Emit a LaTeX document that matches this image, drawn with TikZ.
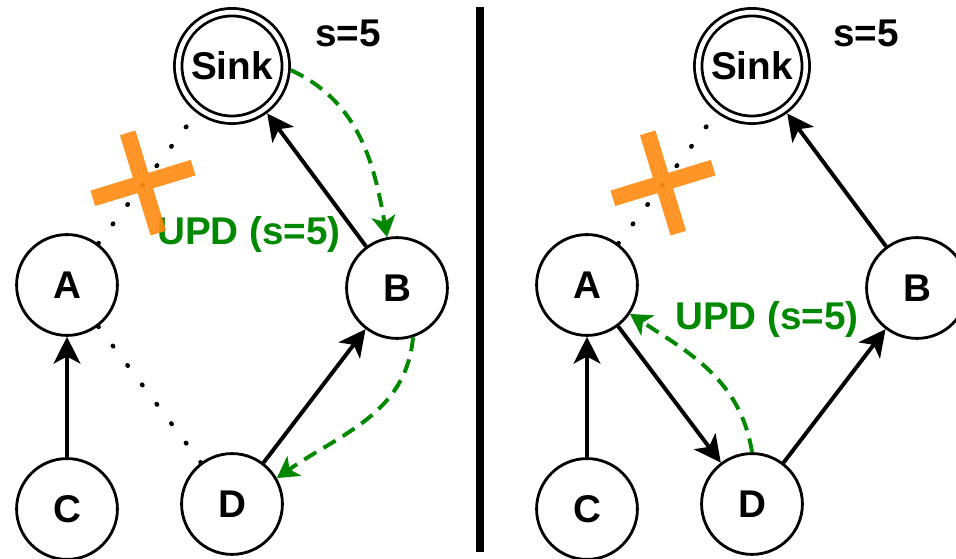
\documentclass[tikz,border=0pt]{standalone}
\usepackage{fontspec}
\setmainfont{Liberation Sans}
\usetikzlibrary{automata,positioning,arrows.meta,shapes.misc}

\definecolor{updgreen}{RGB}{0,136,0}
\definecolor{cutorange}{RGB}{255,140,20}

\tikzset{
	every state/.style={draw=black, line width=2pt, minimum size=2.52cm, inner sep=0pt,
		font=\bfseries\fontsize{27.5pt}{33pt}\selectfont},
	sinkstate/.style={double, double distance=3.3pt, minimum size=2.69cm, outer sep=3.7pt},
	txt/.style={anchor=base, inner sep=0pt, font=\bfseries\fontsize{27.5pt}{33pt}\selectfont},
	flow/.style={-{Stealth[length=19pt,width=19pt,inset=5pt]}, line width=2.8pt},
	lost/.style={line width=3.2pt, line cap=round, dash pattern=on 0.5pt off 16.78pt},
	upd/.style={-{Stealth[length=15pt,width=17pt,inset=4pt]}, updgreen, line width=2.8pt,
		dash pattern=on 10pt off 6pt},
	cut/.style={cross out, draw=cutorange, draw opacity=0.92, line width=11.5pt,
		minimum size=1.45cm, inner sep=0pt, rotate=-28}
}

\begin{document}
\begin{tikzpicture}[x=0.025cm, y=0.025cm]
		\clip (0,0) rectangle (956,559);

		% before the update
		\draw (232,493) node [state, sinkstate] (S1){Sink};
		\draw (67,274) node [state] (A1){A};
		\draw (397,271) node [state] (B1){B};
		\draw (67,50) node [state] (C1){C};
		\draw (232,55) node [state] (D1){D};
		\draw (348,512) node [txt] (s1){s=5};
		\draw (249,314) node [txt, text=updgreen] (u1){UPD (s=5)};

		\draw
		(C1) edge [flow] (A1)
		(D1) edge [flow] (B1)
		(B1) edge [flow] (S1)
		(A1) edge [lost] (S1)
			 edge [lost] (D1)
		(S1.-4) edge [upd, out=-25, in=100] (B1.101)
		(B1.-72) edge [upd, out=-95, in=35] (D1.30);

		\draw (143,376) node [cut] (X1){};

		% separator
		\draw [line width=5pt] (480,7) -- (480,552);

		% after the update
		\draw (752,493) node [state, sinkstate] (S2){Sink};
		\draw (587,274) node [state] (A2){A};
		\draw (917,271) node [state] (B2){B};
		\draw (587,50) node [state] (C2){C};
		\draw (752,55) node [state] (D2){D};
		\draw (866,512) node [txt] (s2){s=5};
		\draw (767,229) node [txt, text=updgreen] (u2){UPD (s=5)};

		\draw
		(C2) edge [flow] (A2)
		(A2) edge [flow] (D2)
		(D2) edge [flow] (B2)
		(B2) edge [flow] (S2)
		(A2) edge [lost] (S2)
		(D2.90) edge [upd, out=99, in=-33] (A2.-34);

		\draw (663,376) node [cut] (X2){};
	\end{tikzpicture}
\end{document}
